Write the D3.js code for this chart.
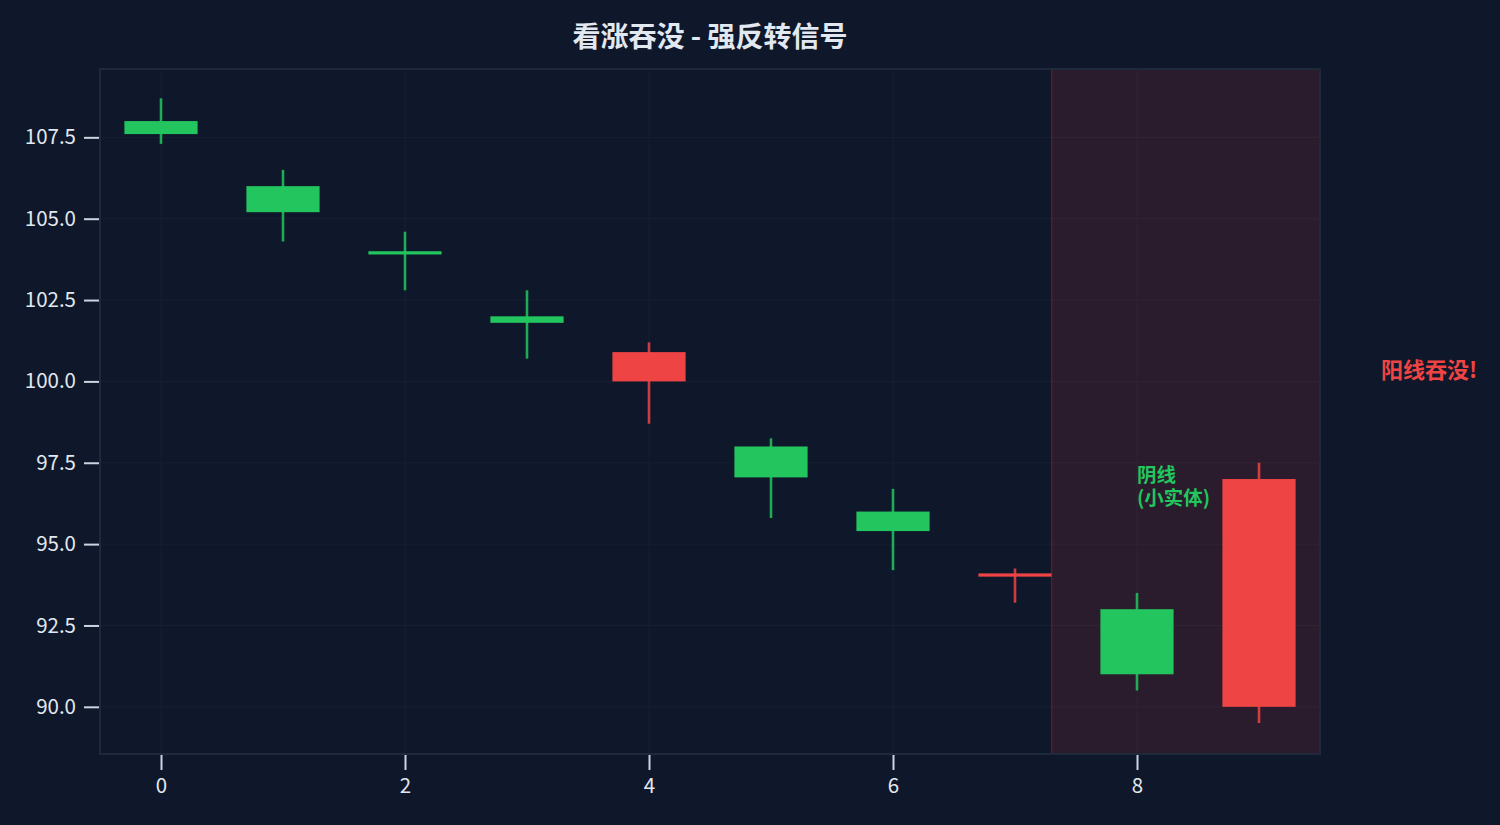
<!DOCTYPE html>
<html>
<head>
<meta charset="utf-8">
<script src="https://cdn.jsdelivr.net/npm/d3@7"></script>
<style>
  html, body { margin: 0; padding: 0; background: #0f172a; }
  svg { display: block; font-family: "Noto Sans CJK SC", "Noto Sans", sans-serif; }
</style>
</head>
<body>
<svg width="1500" height="825"></svg>
<script>
// candle data, index 0..9
var idx    = [0, 1, 2, 3, 4, 5, 6, 7, 8, 9];
var opens  = [108.0, 106.0, 104.0, 102.0, 100.0, 98.0, 96.0, 94.0, 93.0, 90.0];
var closes = [107.6, 105.2, 103.9, 101.8, 100.9, 97.05, 95.4, 94.1, 91.0, 97.0];
var highs  = [108.7, 106.5, 104.6, 102.8, 101.2, 98.25, 96.7, 94.25, 93.5, 97.5];
var lows   = [107.3, 104.3, 102.8, 100.7, 98.7, 95.8, 94.2, 93.2, 90.5, 89.5];
var xTicks = [0, 2, 4, 6, 8];
var yTicks = [90.0, 92.5, 95.0, 97.5, 100.0, 102.5, 105.0, 107.5];
var spanRange = [7.3, 9.5];

var up = "#ef4444", down = "#22c55e";
var svg = d3.select("svg");
var margin = {left: 100, right: 180, top: 69, bottom: 71};
var width = +svg.attr("width"), height = +svg.attr("height");

var x = d3.scaleLinear().domain([-0.5, 9.5]).range([margin.left, width - margin.right]);
var y = d3.scaleLinear().domain([88.55, 109.6]).range([height - margin.bottom, margin.top]);

// grid
var grid = svg.append("g").attr("stroke", "#172133").attr("stroke-width", 1);
grid.selectAll(".gx").data(xTicks).enter().append("line")
  .attr("x1", d => x(d)).attr("x2", d => x(d))
  .attr("y1", margin.top).attr("y2", height - margin.bottom);
grid.selectAll(".gy").data(yTicks).enter().append("line")
  .attr("y1", d => y(d)).attr("y2", d => y(d))
  .attr("x1", margin.left).attr("x2", width - margin.right);

// highlighted region for the engulfing pair
svg.append("rect")
  .attr("x", x(spanRange[0])).attr("width", x(spanRange[1]) - x(spanRange[0]))
  .attr("y", margin.top).attr("height", height - margin.bottom - margin.top)
  .attr("fill", "rgba(239,68,68,0.12)");
svg.append("line")
  .attr("x1", x(spanRange[0])).attr("x2", x(spanRange[0]))
  .attr("y1", margin.top).attr("y2", height - margin.bottom)
  .attr("stroke", "rgba(239,68,68,0.22)").attr("stroke-width", 1.5);

// candles
var candles = svg.append("g");
var bw = x(0.3) - x(0);
idx.forEach(function(i) {
  var col = closes[i] >= opens[i] ? up : down;
  candles.append("line")
    .attr("x1", x(i)).attr("x2", x(i))
    .attr("y1", y(highs[i])).attr("y2", y(lows[i]))
    .attr("stroke", col).attr("stroke-width", 2.6).attr("stroke-opacity", 0.85);
  var top = Math.max(opens[i], closes[i]), bot = Math.min(opens[i], closes[i]);
  candles.append("rect")
    .attr("x", x(i) - bw).attr("width", 2 * bw)
    .attr("y", y(top)).attr("height", Math.max(y(bot) - y(top), 2.5))
    .attr("fill", col);
});

// frame
svg.append("rect")
  .attr("x", margin.left).attr("y", margin.top)
  .attr("width", width - margin.left - margin.right)
  .attr("height", height - margin.top - margin.bottom)
  .attr("fill", "none").attr("stroke", "#1e293b").attr("stroke-width", 2);

// axes
var xAxis = svg.append("g")
  .attr("transform", "translate(0," + (height - margin.bottom + 1) + ")")
  .call(d3.axisBottom(x).tickValues(xTicks).tickSize(15).tickPadding(8).tickFormat(d3.format("d")));
var yAxis = svg.append("g")
  .attr("transform", "translate(" + (margin.left - 1) + ",0)")
  .call(d3.axisLeft(y).tickValues(yTicks).tickSize(15).tickPadding(8).tickFormat(d3.format(".1f")));
[xAxis, yAxis].forEach(function(a) {
  a.select(".domain").remove();
  a.selectAll(".tick line").attr("stroke", "#cbd5e1").attr("stroke-width", 2);
  a.selectAll(".tick text").attr("fill", "#e2e8f0").style("font-size", "20.5px")
    .style("font-family", "'Noto Sans CJK SC', sans-serif");
});

// title
svg.append("text")
  .attr("x", (margin.left + width - margin.right) / 2).attr("y", 35)
  .attr("text-anchor", "middle").attr("dominant-baseline", "central")
  .attr("fill", "#e2e8f0").style("font-size", "28px").style("font-weight", "bold")
  .text("看涨吞没 - 强反转信号");

// annotations
var note1 = svg.append("text")
  .attr("fill", down).style("font-size", "19.5px").style("font-weight", "bold");
note1.append("tspan").attr("x", x(8)).attr("y", y(96.8) - 12).attr("dominant-baseline", "central").text("阴线");
note1.append("tspan").attr("x", x(8)).attr("y", y(96.8) + 11).attr("dominant-baseline", "central").text("(小实体)");

svg.append("text")
  .attr("x", x(10)).attr("y", y(100.4))
  .attr("dominant-baseline", "central")
  .attr("fill", up).style("font-size", "22px").style("font-weight", "bold")
  .text("阳线吞没!");
</script>
</body>
</html>
